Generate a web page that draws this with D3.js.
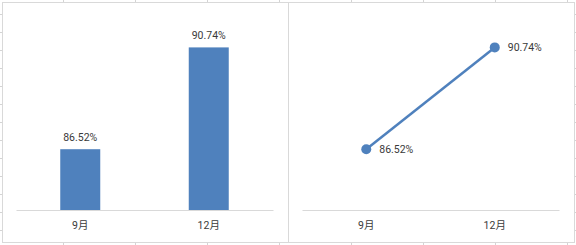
<!DOCTYPE html>
<html>
<head>
<meta charset="utf-8">
<script src="https://cdn.jsdelivr.net/npm/d3@7"></script>
<style>
	body { margin: 0; background: #fff; }
	svg { display: block; }
	.label { font-family: Roboto, "Noto Sans CJK SC", sans-serif; font-size: 10.5px; fill: #3a3a3a; }
</style>
</head>
<body>
<svg id="chart"></svg>
<script>
// chart data
const months = ['9月', '12月'];
const rates = [86.52, 90.74];
const rateDomain = [84, 92];

// spreadsheet grid behind the charts
const sheetCols = [63, 135, 207, 279, 351, 423, 495, 567];
const sheetRows = [14, 32, 50, 68, 86, 104, 122, 140, 158, 176, 194, 212, 230];

const config = {
	width: 576,
	height: 245,
	panelWidth: 286,
	panelHeight: 240,
	margin: { top: 15, right: 15, bottom: 32, left: 14 },
	barColor: '#4f81bd',
	borderColor: '#d9d9d9'
};

const svg = d3.select('#chart')
	.attr('width', config.width)
	.attr('height', config.height);

// draw the faint cell lines first
svg.append('g').selectAll('line')
	.data(sheetCols)
	.join('line')
		.attr('x1', d => d + 0.5)
		.attr('x2', d => d + 0.5)
		.attr('y1', 0)
		.attr('y2', config.height)
		.attr('stroke', '#d4d4d4');

svg.append('g').selectAll('line')
	.data(sheetRows)
	.join('line')
		.attr('x1', 0)
		.attr('x2', config.width)
		.attr('y1', d => d + 0.5)
		.attr('y2', d => d + 0.5)
		.attr('stroke', '#d4d4d4');

function makePanel(x0) {
	let panel = svg.append('g')
		.attr('transform', `translate(${x0},2)`);

	panel.append('rect')
		.attr('x', 0.5)
		.attr('y', 0.5)
		.attr('width', config.panelWidth)
		.attr('height', config.panelHeight)
		.attr('fill', '#fff')
		.attr('stroke', config.borderColor);

	let inner = panel.append('g')
		.attr('transform', `translate(${config.margin.left},${config.margin.top})`);

	let w = config.panelWidth - config.margin.left - config.margin.right;
	let h = config.panelHeight - config.margin.top - config.margin.bottom;

	let xScale = d3.scaleBand()
		.domain(months)
		.range([0, w]);

	let yScale = d3.scaleLinear()
		.domain(rateDomain)
		.range([h, 0]);

	// category axis, no ticks, light baseline
	let xAxisGroup = inner.append('g')
		.attr('transform', `translate(0,${h})`)
		.call(d3.axisBottom(xScale).tickSize(0).tickPadding(12));
	xAxisGroup.select('.domain').attr('stroke', config.borderColor);
	xAxisGroup.attr('font-family', null).attr('font-size', null);
	xAxisGroup.selectAll('text')
		.attr('class', 'label')
		.attr('fill', null);

	return { inner, xScale, yScale, h };
}

// left panel: columns
const bar = makePanel(2);
bar.inner.selectAll('.bar')
	.data(rates)
	.join('rect')
		.attr('class', 'bar')
		.attr('x', (d, i) => bar.xScale(months[i]) + bar.xScale.bandwidth() / 2 - 20)
		.attr('y', d => bar.yScale(d))
		.attr('width', 40)
		.attr('height', d => bar.h - bar.yScale(d))
		.attr('fill', config.barColor);

bar.inner.selectAll('.bar-label')
	.data(rates)
	.join('text')
		.attr('class', 'label')
		.attr('x', (d, i) => bar.xScale(months[i]) + bar.xScale.bandwidth() / 2)
		.attr('y', d => bar.yScale(d) - 8.5)
		.attr('text-anchor', 'middle')
		.text(d => d.toFixed(2) + '%');

// right panel: line with markers
const line = makePanel(288);
const cx = (d, i) => line.xScale(months[i]) + line.xScale.bandwidth() / 2;

line.inner.append('path')
	.datum(rates)
	.attr('fill', 'none')
	.attr('stroke', config.barColor)
	.attr('stroke-width', 2.5)
	.attr('d', d3.line().x(cx).y(d => line.yScale(d)));

line.inner.selectAll('circle')
	.data(rates)
	.join('circle')
		.attr('cx', cx)
		.attr('cy', d => line.yScale(d))
		.attr('r', 5)
		.attr('fill', config.barColor);

line.inner.selectAll('.point-label')
	.data(rates)
	.join('text')
		.attr('class', 'label')
		.attr('x', (d, i) => cx(d, i) + 13)
		.attr('y', d => line.yScale(d))
		.attr('dy', '0.35em')
		.text(d => d.toFixed(2) + '%');
</script>
</body>
</html>
